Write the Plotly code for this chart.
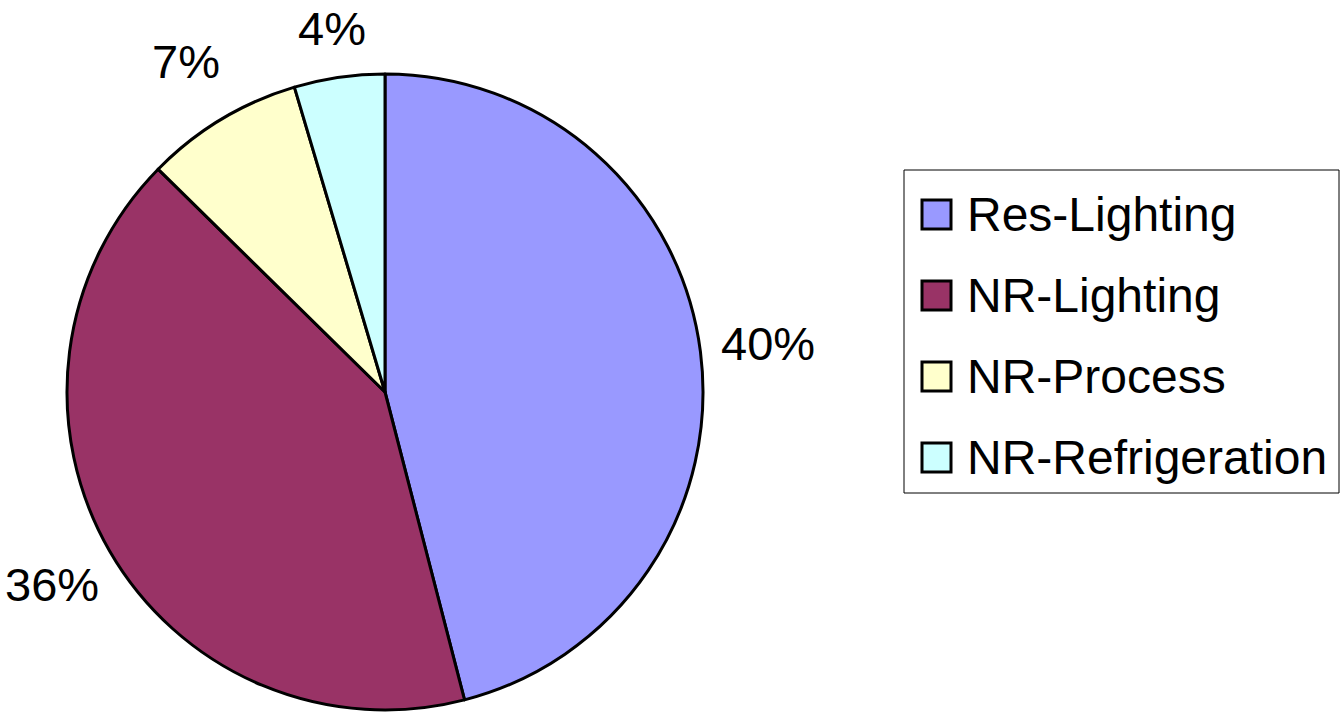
import math
import plotly.graph_objects as go

# Electricity savings share by end use
categories = ["Res-Lighting", "NR-Lighting", "NR-Process", "NR-Refrigeration"]
shares = [40, 36, 7, 4]
colors = ["#9999FF", "#993366", "#FFFFCC", "#CCFFFF"]

W, H = 1340, 715
FONT = "Liberation Sans, Arial, sans-serif"


def fx(x):
    return x / W


def fy(y):
    return 1 - y / H


# pie placement in pixels
cx, cy, r = 385, 392, 318
# radial distance of each percentage label centre from the pie centre
label_dist = [386, 385, 386, 367]

fig = go.Figure(
    go.Pie(
        labels=categories,
        values=shares,
        sort=False,
        direction="clockwise",
        rotation=0,
        marker=dict(colors=colors, line=dict(color="black", width=3)),
        textinfo="none",
        domain=dict(x=[fx(cx - r), fx(cx + r)], y=[fy(cy + r), fy(cy - r)]),
        showlegend=False,
        hoverinfo="label+value",
    )
)

annotations = []

# percentage labels placed outside each slice along its mid-angle
total = sum(shares)
cum = 0
for v, d in zip(shares, label_dist):
    mid = (cum + v / 2) / total * 2 * math.pi
    cum += v
    lx = cx + d * math.sin(mid)
    ly = cy - d * math.cos(mid)
    annotations.append(dict(xref="paper", yref="paper", x=fx(lx), y=fy(ly),
                            xanchor="center", yanchor="middle", showarrow=False,
                            borderpad=0, borderwidth=0,
                            text=f"{v}%", font=dict(family=FONT, size=47, color="black")))

# legend box with square swatches
box_l, box_t, box_r, box_b = 904, 170, 1339, 493
shapes = [
    dict(type="rect", xref="paper", yref="paper",
         x0=fx(box_l), x1=fx(box_r), y0=fy(box_b), y1=fy(box_t),
         line=dict(color="black", width=1), fillcolor="white", layer="below")
]
row_top, row_gap, sw = 214.5, 81, 29
for i, (name, col) in enumerate(zip(categories, colors)):
    yc = row_top + i * row_gap
    shapes.append(dict(type="rect", xref="paper", yref="paper",
                       x0=fx(922), x1=fx(922 + sw), y0=fy(yc + sw / 2), y1=fy(yc - sw / 2),
                       line=dict(color="black", width=3), fillcolor=col))
    annotations.append(dict(xref="paper", yref="paper", x=fx(965), y=fy(yc),
                            xanchor="left", yanchor="middle", showarrow=False,
                            text=name, font=dict(family=FONT, size=48, color="black")))

fig.update_layout(
    width=W, height=H,
    margin=dict(l=0, r=0, t=0, b=0),
    paper_bgcolor="white",
    plot_bgcolor="white",
    shapes=shapes,
    annotations=annotations,
)

fig.write_html("out.html")
